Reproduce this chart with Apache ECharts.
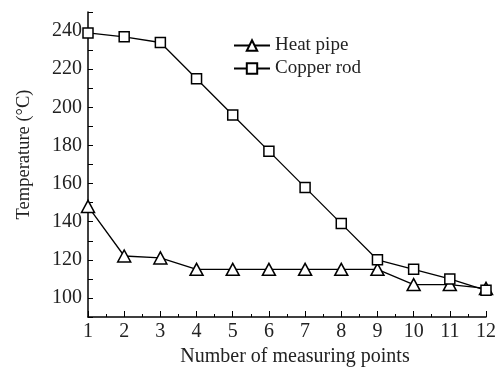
<!DOCTYPE html>
<html lang="en">
<head>
    <meta charset="UTF-8">
    <title>Temperature</title>
    <script src="https://cdn.jsdelivr.net/npm/echarts@6/dist/echarts.min.js"></script>
    <style>
        html, body { margin: 0; padding: 0; background: #fff; }
        #main { width: 497px; height: 370px; }
    </style>
</head>
<body>
<div id="main"></div>
<script>
    // measuring points
    var points = [1, 2, 3, 4, 5, 6, 7, 8, 9, 10, 11, 12];
    var heatPipe = [148, 122, 121, 115, 115, 115, 115, 115, 115, 107, 107, 105];
    var copperRod = [239, 237, 234, 215, 196, 177, 158, 139, 120, 115, 110, 104];

    var font = 'Liberation Serif';
    var chart = echarts.init(document.getElementById('main'));

    function pairs(vals) {
        var out = [];
        for (var i = 0; i < points.length; i++) {
            out.push([points[i], vals[i]]);
        }
        return out;
    }

    chart.setOption({
        animation: false,
        textStyle: { fontFamily: font, color: '#222' },
        grid: { left: 88, right: 11, top: 12, bottom: 53, containLabel: false, outerBoundsMode: 'none' },
        legend: {
            orient: 'vertical',
            left: 228,
            top: 31,
            itemWidth: 36,
            itemHeight: 13,
            itemGap: 4,
            textStyle: { fontFamily: font, fontSize: 19, lineHeight: 19, color: '#222' },
            data: ['Heat pipe', 'Copper rod']
        },
        xAxis: {
            type: 'value',
            min: 1,
            max: 12,
            interval: 1,
            name: 'Number of measuring points',
            nameLocation: 'middle',
            nameGap: 30,
            nameTextStyle: { fontFamily: font, fontSize: 20, color: '#222', padding: [0, 0, 0, 16] },
            axisLine: { lineStyle: { color: '#000', width: 1.5 } },
            axisTick: { inside: true, length: 6, lineStyle: { color: '#000' } },
            minorTick: { show: true, splitNumber: 2, length: 3, lineStyle: { color: '#000' } },
            axisLabel: { fontFamily: font, fontSize: 20, color: '#222', margin: 5 },
            splitLine: { show: false }
        },
        yAxis: {
            type: 'value',
            min: 90,
            max: 250,
            interval: 10,
            name: 'Temperature (°C)',
            nameLocation: 'middle',
            nameGap: 54,
            nameTextStyle: { fontFamily: font, fontSize: 18.5, color: '#222', padding: [0, 0, 0, 20] },
            axisLine: { show: true, lineStyle: { color: '#000', width: 1.5 } },
            axisTick: { inside: true, length: 5, lineStyle: { color: '#000' } },
            axisLabel: {
                fontFamily: font, fontSize: 20, color: '#222', margin: 6,
                formatter: function (v) { return v % 20 === 0 ? v : ''; }
            },
            splitLine: { show: false }
        },
        series: [
            {
                name: 'Heat pipe',
                type: 'line',
                data: pairs(heatPipe),
                symbol: 'triangle',
                symbolSize: [13, 12],
                clip: false,
                lineStyle: { color: '#000', width: 1.3 },
                itemStyle: { color: '#fff', borderColor: '#000', borderWidth: 1.5 }
            },
            {
                name: 'Copper rod',
                type: 'line',
                data: pairs(copperRod),
                symbol: 'rect',
                symbolSize: 10,
                clip: false,
                lineStyle: { color: '#000', width: 1.3 },
                itemStyle: { color: '#fff', borderColor: '#000', borderWidth: 1.5 }
            }
        ]
    });
</script>
</body>
</html>
